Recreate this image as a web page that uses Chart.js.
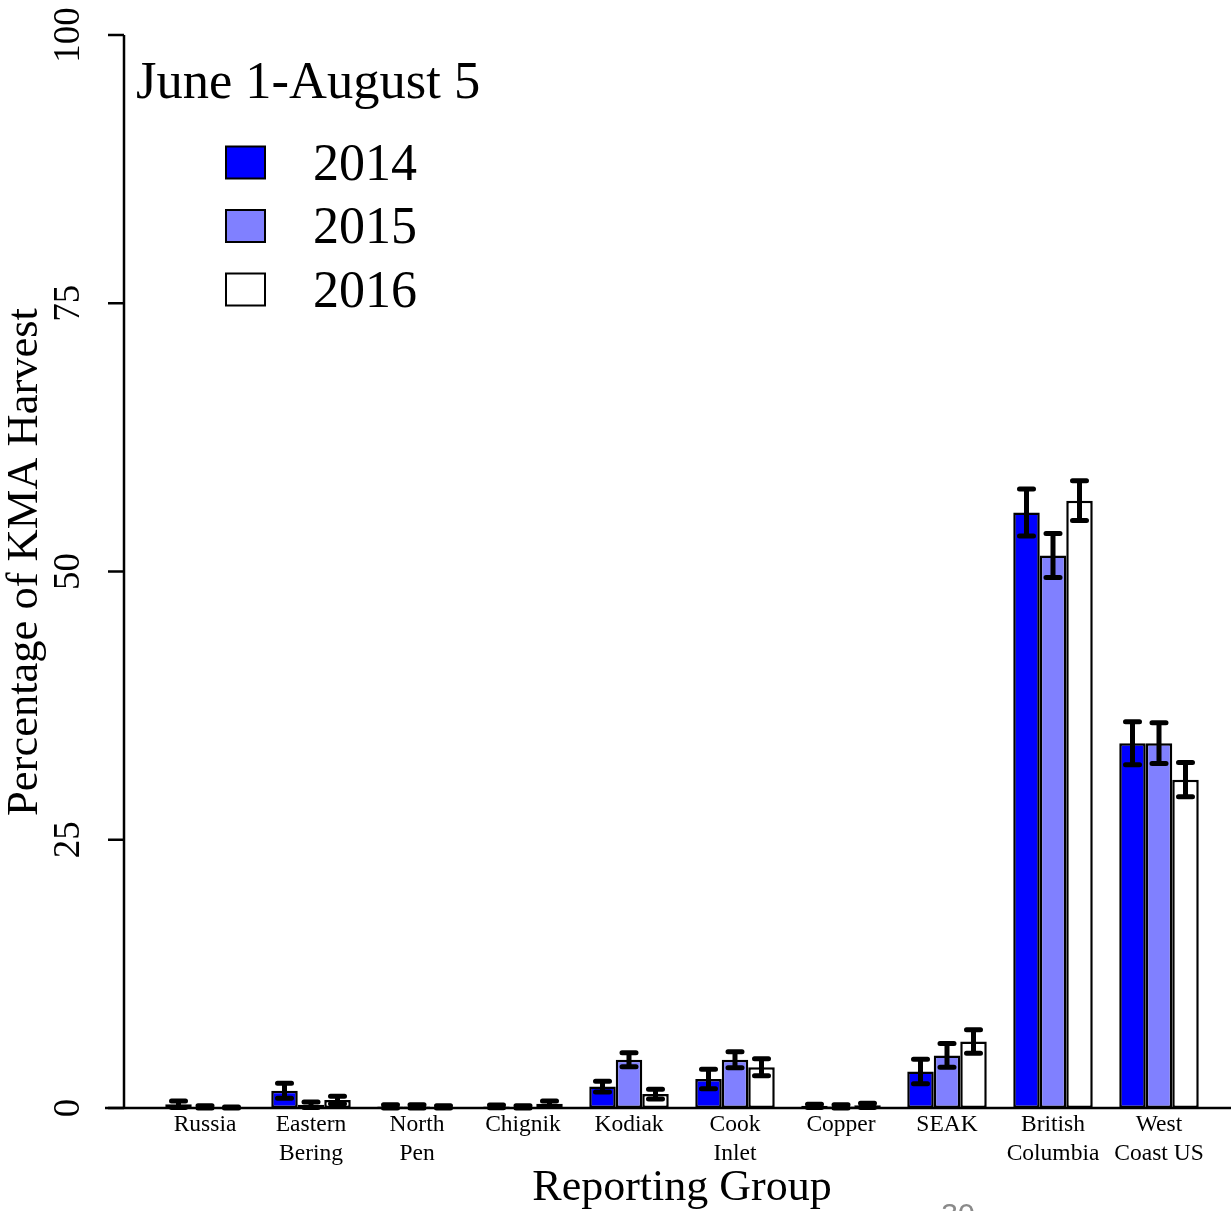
<!DOCTYPE html>
<html>
<head>
<meta charset="utf-8">
<script src="https://cdn.jsdelivr.net/npm/chart.js@4/dist/chart.umd.min.js"></script>
<style>
  html, body { margin: 0; padding: 0; background: #fff; }
  canvas { display: block; }
</style>
</head>
<body>
<canvas id="harvest" width="1231" height="1211"></canvas>
<script>
// reporting groups and estimates (percent of KMA harvest)
var groups = [["Russia"], ["Eastern", "Bering"], ["North", "Pen"], ["Chignik"], ["Kodiak"],
              ["Cook", "Inlet"], ["Copper"], ["SEAK"], ["British", "Columbia"], ["West", "Coast US"]];
var years = ["2014", "2015", "2016"];
var pct2014 = [0.35, 1.6, 0.15, 0.15, 2.0, 2.7, 0.2, 3.4, 55.5, 34.0];
var pct2015 = [0.1, 0.3, 0.15, 0.1, 4.5, 4.5, 0.15, 4.9, 51.5, 34.0];
var pct2016 = [0.05, 0.75, 0.1, 0.4, 1.3, 3.8, 0.25, 6.2, 56.6, 30.6];
// half-width of the interval drawn as error bar
var err2014 = [0.3, 0.7, 0.15, 0.12, 0.5, 0.9, 0.15, 1.15, 2.2, 2.0];
var err2015 = [0.1, 0.25, 0.15, 0.1, 0.65, 0.75, 0.15, 1.1, 2.05, 1.9];
var err2016 = [0.05, 0.35, 0.1, 0.25, 0.45, 0.8, 0.2, 1.1, 1.85, 1.6];
var yTicks = [0, 25, 50, 75, 100];
var fills = ["#0000ff", "#8080ff", "#ffffff"];

var serif = "'Liberation Serif', 'Times New Roman', serif";

// y axis, baseline, error bars, legend -- R style
var rStyle = {
  id: 'rStyle',
  afterDatasetsDraw: function(chart) {
    var ctx = chart.ctx;
    var y = chart.scales.y;
    var axisX = 124;
    ctx.save();
    ctx.strokeStyle = '#000';
    ctx.fillStyle = '#000';

    // baseline at 0
    ctx.lineWidth = 2.5;
    ctx.beginPath();
    ctx.moveTo(axisX - 19, y.getPixelForValue(0));
    ctx.lineTo(chart.width, y.getPixelForValue(0));
    ctx.stroke();

    // y axis with rotated labels
    ctx.beginPath();
    ctx.moveTo(axisX, y.getPixelForValue(0));
    ctx.lineTo(axisX, y.getPixelForValue(100));
    yTicks.forEach(function(t) {
      ctx.moveTo(axisX - 16, y.getPixelForValue(t));
      ctx.lineTo(axisX, y.getPixelForValue(t));
    });
    ctx.stroke();
    ctx.font = '37px ' + serif;
    ctx.textAlign = 'center';
    ctx.textBaseline = 'middle';
    yTicks.forEach(function(t) {
      ctx.save();
      ctx.translate(69, y.getPixelForValue(t));
      ctx.rotate(-Math.PI / 2);
      ctx.fillText(String(t), 0, 0);
      ctx.restore();
    });
    ctx.save();
    ctx.font = '44.5px ' + serif;
    ctx.translate(25, 562);
    ctx.rotate(-Math.PI / 2);
    ctx.fillText('Percentage of KMA Harvest', 0, 0);
    ctx.restore();

    // error bars
    var errs = [err2014, err2015, err2016];
    ctx.lineWidth = 5;
    ctx.lineCap = 'round';
    chart.data.datasets.forEach(function(ds, di) {
      var meta = chart.getDatasetMeta(di);
      meta.data.forEach(function(bar, i) {
        var v = ds.data[i], e = errs[di][i];
        var top = y.getPixelForValue(v + e);
        var bot = y.getPixelForValue(Math.max(v - e, 0));
        ctx.beginPath();
        ctx.moveTo(bar.x, top);
        ctx.lineTo(bar.x, bot);
        ctx.moveTo(bar.x - 7, top);
        ctx.lineTo(bar.x + 7, top);
        ctx.moveTo(bar.x - 7, bot);
        ctx.lineTo(bar.x + 7, bot);
        ctx.stroke();
      });
    });

    // legend inside the plot
    ctx.lineCap = 'butt';
    ctx.textAlign = 'left';
    ctx.textBaseline = 'alphabetic';
    ctx.font = '52.5px ' + serif;
    ctx.fillText('June 1-August 5', 136, 98);
    ctx.font = '52px ' + serif;
    chart.data.datasets.forEach(function(ds, di) {
      var cy = 162.5 + di * 63.5;
      ctx.fillStyle = ds.backgroundColor;
      ctx.fillRect(226, cy - 16, 39, 32);
      ctx.lineWidth = 2;
      ctx.strokeRect(226, cy - 16, 39, 32);
      ctx.fillStyle = '#000';
      ctx.fillText(ds.label, 313, cy + 17);
    });

    // slide page number, cut by the edge
    ctx.fillStyle = '#8a8a8a';
    ctx.font = '30px ' + "'Liberation Sans', Arial, sans-serif";
    ctx.textAlign = 'center';
    ctx.textBaseline = 'top';
    ctx.fillText('30', 958, 1201);
    ctx.restore();
  }
};

new Chart(document.getElementById('harvest'), {
  type: 'bar',
  data: {
    labels: groups,
    datasets: [
      { label: years[0], data: pct2014, backgroundColor: fills[0] },
      { label: years[1], data: pct2015, backgroundColor: fills[1] },
      { label: years[2], data: pct2016, backgroundColor: fills[2] }
    ]
  },
  options: {
    responsive: false,
    animation: false,
    devicePixelRatio: 1,
    layout: { padding: { left: 152, right: 19, top: 35, bottom: 0 } },
    datasets: {
      bar: {
        borderColor: '#000',
        borderWidth: 2.5,
        borderSkipped: false,
        categoryPercentage: 0.75,
        barPercentage: 1
      }
    },
    plugins: {
      legend: { display: false },
      tooltip: { enabled: false }
    },
    scales: {
      x: {
        grid: { display: false },
        border: { display: false },
        ticks: {
          color: '#000',
          font: { family: serif, size: 23.5, lineHeight: 1.25 },
          padding: -6,
          maxRotation: 0,
          autoSkip: false
        },
        title: {
          display: true,
          text: 'Reporting Group',
          color: '#000',
          font: { family: serif, size: 44, lineHeight: 1 },
          padding: { top: 0, bottom: 1 }
        },
        afterFit: function(scale) { scale.height = 103; }
      },
      y: {
        display: false,
        min: 0,
        max: 100
      }
    }
  },
  plugins: [rStyle]
});
</script>
</body>
</html>
